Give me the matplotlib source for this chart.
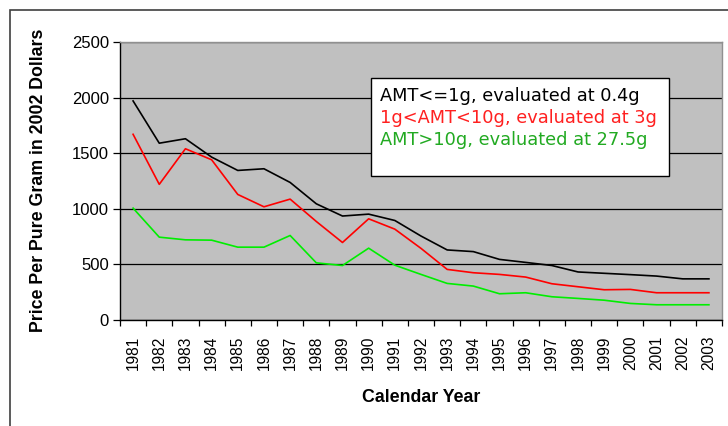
import matplotlib
matplotlib.use("Agg")
import matplotlib.pyplot as plt
from matplotlib.patches import Rectangle
import numpy as np

years = [str(y) for y in range(1981, 2004)]
small = [1970, 1590, 1630, 1465, 1345, 1360, 1237, 1045, 935, 952, 895,
         755, 630, 615, 545, 518, 490, 432, 420, 408, 395, 370, 370]
medium = [1670, 1220, 1540, 1441, 1129, 1018, 1087, 886, 697, 910, 817,
          644, 455, 425, 410, 386, 326, 299, 272, 275, 245, 245, 245]
large = [1006, 745, 721, 718, 655, 655, 760, 514, 490, 646, 493,
         410, 329, 305, 236, 245, 209, 194, 178, 149, 137, 137, 137]
legend_lines = ["AMT<=1g, evaluated at 0.4g",
                "1g<AMT<10g, evaluated at 3g",
                "AMT>10g, evaluated at 27.5g"]
yticks = [0, 500, 1000, 1500, 2000, 2500]

W, H = 728, 426
fig = plt.figure(figsize=(W / 100, H / 100), dpi=100)
fig.patch.set_facecolor("white")

# outer frame
fig.patches.append(Rectangle((10 / W, -0.1), 1.2, 1 - 10 / H + 0.1,
                             transform=fig.transFigure, fill=False,
                             edgecolor="#404040", linewidth=1.2))

ax = fig.add_axes([120 / W, 1 - 320 / H, (722 - 120) / W, (320 - 42) / H])
ax.set_facecolor("#c0c0c0")

x = np.arange(len(years))
ax.plot(x, small, color="#000000", linewidth=1.2)
ax.plot(x, medium, color="#ff0000", linewidth=1.2)
ax.plot(x, large, color="#00ee00", linewidth=1.2)

ax.set_xlim(-0.5, len(years) - 0.5)
ax.set_ylim(0, 2500)
ax.set_yticks(yticks)
ax.set_yticklabels([str(v) for v in yticks], fontsize=12, family="Liberation Sans")
ax.yaxis.grid(True, color="black", linewidth=0.9)
ax.set_axisbelow(True)

ax.set_xticks(x)
ax.set_xticklabels(years, rotation=90, fontsize=11.2, family="Liberation Sans")
ax.tick_params(axis="x", which="major", length=0, pad=11)
ax.set_xticks(np.arange(-0.5, len(years), 1), minor=True)
ax.tick_params(axis="x", which="minor", length=4.5, width=0.9, direction="out")
ax.tick_params(axis="y", length=5, width=0.9, direction="out", pad=3)

for s in ["top", "right"]:
    ax.spines[s].set_color("#909090")
    ax.spines[s].set_linewidth(1.0)
for s in ["left", "bottom"]:
    ax.spines[s].set_color("black")
    ax.spines[s].set_linewidth(1.0)

fig.text(421 / W, 1 - 401.5 / H, "Calendar Year", fontsize=12.8, fontweight="bold",
         family="Liberation Sans", ha="center", va="baseline")
fig.text(39 / W, 1 - 180.5 / H, "Price Per Pure Gram in 2002 Dollars", fontsize=12.8,
         fontweight="bold", family="Liberation Sans", rotation=90,
         ha="center", va="center")

# legend box
fig.patches.append(Rectangle((371 / W, 1 - 176 / H), (669 - 371) / W, (176 - 78) / H,
                             transform=fig.transFigure, facecolor="white",
                             edgecolor="black", linewidth=1.0, zorder=5))
colors = ["#000000", "#ff2020", "#22aa22"]
ys = [101, 123.3, 145.3]
for t, c, yy in zip(legend_lines, colors, ys):
    fig.text(380 / W, 1 - yy / H, t, color=c, fontsize=12.8,
             family="DejaVu Sans", va="baseline", ha="left", zorder=6)

fig.savefig("out.png", dpi=100, facecolor="white")
